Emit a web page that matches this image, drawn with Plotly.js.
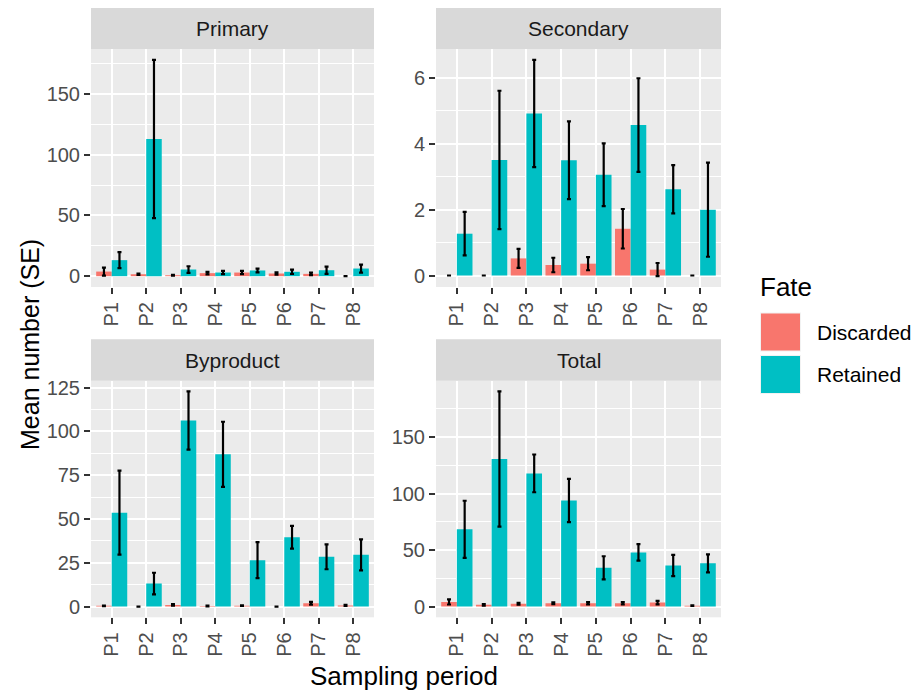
<!DOCTYPE html>
<html>
<head>
<meta charset="utf-8">
<script src="https://cdn.plot.ly/plotly-3.0.1.min.js"></script>
<style>html,body{margin:0;padding:0;background:#fff;}#chart{width:913px;height:691px;}</style>
</head>
<body>
<div id="chart"></div>
<script>
// ---- Data ----
const periods = ["P1","P2","P3","P4","P5","P6","P7","P8"];
const fates = ["Discarded","Retained"];
const panels = ["Primary","Secondary","Byproduct","Total"];

const primaryDiscarded   = [3.8, 1.6, 0.8, 2.5, 3.0, 2.2, 1.9, 0];
const primaryDiscardedSE = [3.3, 0.5, 0.3, 1.0, 1.3, 0.9, 1.0, 0];
const primaryRetained    = [13.2, 113.0, 5.5, 3.0, 4.7, 3.6, 4.9, 6.3];
const primaryRetainedSE  = [6.6, 65.2, 2.7, 1.3, 1.5, 1.8, 3.0, 3.3];

const secondaryDiscarded   = [0, 0, 0.52, 0.32, 0.36, 1.42, 0.18, 0];
const secondaryDiscardedSE = [0, 0, 0.29, 0.22, 0.20, 0.60, 0.20, 0];
const secondaryRetained    = [1.27, 3.51, 4.92, 3.50, 3.06, 4.57, 2.62, 2.00];
const secondaryRetainedSE  = [0.66, 2.10, 1.63, 1.18, 0.95, 1.42, 0.73, 1.43];

const byproductDiscarded   = [0.4, 0, 0.95, 0.3, 0.5, 0, 1.9, 0.6];
const byproductDiscardedSE = [0.2, 0, 0.5, 0.2, 0.2, 0, 0.8, 0.3];
const byproductRetained    = [53.6, 13.1, 106.2, 86.9, 26.5, 39.6, 28.4, 29.5];
const byproductRetainedSE  = [24.0, 6.2, 16.6, 18.6, 10.3, 6.5, 7.1, 8.8];

const totalDiscarded   = [4.1, 1.5, 2.4, 3.0, 3.0, 3.0, 3.5, 0.8];
const totalDiscardedSE = [2.3, 0.7, 0.8, 0.8, 1.0, 1.0, 1.5, 0.3];
const totalRetained    = [68.3, 130.5, 117.8, 93.8, 34.3, 47.9, 36.4, 38.2];
const totalRetainedSE  = [25.3, 59.8, 16.7, 19.1, 10.2, 7.3, 9.4, 8.0];

const yTickStep = [50, 2, 25, 50];

// ---- Styling ----
const W = 913, H = 691;
const colors = {Discarded: "#F8766D", Retained: "#00BFC4"};
const FONT = "Liberation Sans, Arial, sans-serif";
const yTickFont = {family: FONT, size: 20, color: "#4D4D4D"};
const xTickFont = {family: FONT, size: 20, color: "#4D4D4D"};

const seriesData = [
  [primaryDiscarded, primaryDiscardedSE, primaryRetained, primaryRetainedSE],
  [secondaryDiscarded, secondaryDiscardedSE, secondaryRetained, secondaryRetainedSE],
  [byproductDiscarded, byproductDiscardedSE, byproductRetained, byproductRetainedSE],
  [totalDiscarded, totalDiscardedSE, totalRetained, totalRetainedSE]
];

// panel pixel boxes
const boxes = [
  {x0: 91, x1: 374, y0: 49, y1: 287, s0: 8},
  {x0: 436, x1: 721, y0: 49, y1: 287, s0: 8},
  {x0: 91, x1: 374, y0: 380.7, y1: 617.3, s0: 339.3},
  {x0: 436, x1: 721, y0: 380.7, y1: 617.3, s0: 339.3}
];
const px = v => v / W;
const py = v => 1 - v / H;

const traces = [];
const layout = {
  width: W, height: H,
  margin: {l: 0, r: 0, t: 0, b: 0},
  paper_bgcolor: "#FFFFFF",
  plot_bgcolor: "#EBEBEB",
  barmode: "group",
  bargap: 0.1,
  bargroupgap: 0,
  showlegend: false,
  font: {family: FONT},
  shapes: [],
  annotations: []
};

panels.forEach((name, i) => {
  const sfx = i === 0 ? "" : String(i + 1);
  const [dv, dse, rv, rse] = seriesData[i];
  [[dv, dse, "Discarded"], [rv, rse, "Retained"]].forEach(([vals, se, fate]) => {
    traces.push({
      type: "bar",
      x: periods,
      y: vals,
      name: fate,
      marker: {color: colors[fate], line: {width: 0}},
      error_y: {type: "data", array: se, visible: true, color: "#000000", thickness: 2.2, width: 2},
      xaxis: "x" + sfx,
      yaxis: "y" + sfx,
      hoverinfo: "x+y+name"
    });
  });
  // y range like ggplot (5% expansion)
  let hi = -Infinity, lo = 0;
  [[dv, dse], [rv, rse]].forEach(([v, s]) => v.forEach((m, k) => {
    hi = Math.max(hi, m + s[k], m);
    lo = Math.min(lo, m - s[k], m);
  }));
  const pad = 0.05 * (hi - lo);
  const b = boxes[i];
  const step = yTickStep[i];
  layout["xaxis" + sfx] = {
    domain: [px(b.x0), px(b.x1)],
    anchor: "y" + sfx,
    type: "category",
    categoryorder: "array",
    categoryarray: periods,
    range: [-0.6, periods.length - 0.4],
    showgrid: true, gridcolor: "#FFFFFF", gridwidth: 2,
    zeroline: false, showline: false,
    ticks: "outside", ticklen: 6, tickwidth: 2, tickcolor: "#333333",
    tickangle: -90,
    tickfont: xTickFont,
    fixedrange: true
  };
  layout["yaxis" + sfx] = {
    domain: [py(b.y1), py(b.y0)],
    anchor: "x" + sfx,
    range: [lo - pad, hi + pad],
    tick0: 0, dtick: step,
    showgrid: true, gridcolor: "#FFFFFF", gridwidth: 2,
    minor: {dtick: step / 2, tick0: 0, showgrid: true, gridcolor: "#FFFFFF", gridwidth: 1, ticks: ""},
    zeroline: false, showline: false,
    ticks: "outside", ticklen: 6, tickwidth: 2, tickcolor: "#333333",
    tickfont: yTickFont,
    fixedrange: true
  };
  // strip
  layout.shapes.push({
    type: "rect", xref: "paper", yref: "paper",
    x0: px(b.x0), x1: px(b.x1), y0: py(b.y0), y1: py(b.s0),
    fillcolor: "#D9D9D9", line: {width: 0}, layer: "below"
  });
  layout.annotations.push({
    xref: "paper", yref: "paper",
    x: px((b.x0 + b.x1) / 2), y: py((b.s0 + b.y0) / 2),
    text: name, showarrow: false,
    xanchor: "center", yanchor: "middle",
    font: {family: FONT, size: 21, color: "#1A1A1A"}
  });
});

// axis titles
layout.annotations.push({
  xref: "paper", yref: "paper", x: px(30), y: py(345),
  text: "Mean number (SE)", textangle: -90, showarrow: false,
  xanchor: "center", yanchor: "middle",
  font: {family: FONT, size: 25, color: "#000000"}
});
layout.annotations.push({
  xref: "paper", yref: "paper", x: px(404), y: py(676),
  text: "Sampling period", showarrow: false,
  xanchor: "center", yanchor: "middle",
  font: {family: FONT, size: 26, color: "#000000"}
});

// legend (drawn manually, ggplot-like key size)
layout.annotations.push({
  xref: "paper", yref: "paper", x: px(758), y: py(287),
  text: "Fate", showarrow: false, xanchor: "left", yanchor: "middle",
  font: {family: FONT, size: 26, color: "#000000"}
});
const keyTops = [312.5, 355];
fates.forEach((f, k) => {
  const t = keyTops[k];
  layout.shapes.push({
    type: "rect", xref: "paper", yref: "paper",
    x0: px(760), x1: px(801), y0: py(t + 39), y1: py(t),
    fillcolor: "#F2F2F2", line: {width: 0}
  });
  layout.shapes.push({
    type: "rect", xref: "paper", yref: "paper",
    x0: px(761), x1: px(800), y0: py(t + 38), y1: py(t + 1),
    fillcolor: colors[f], line: {width: 0}
  });
  layout.annotations.push({
    xref: "paper", yref: "paper", x: px(815), y: py(t + 19.5),
    text: f, showarrow: false, xanchor: "left", yanchor: "middle",
    font: {family: FONT, size: 21, color: "#000000"}
  });
});

Plotly.newPlot("chart", traces, layout, {displayModeBar: false, staticPlot: true});
</script>
</body>
</html>
